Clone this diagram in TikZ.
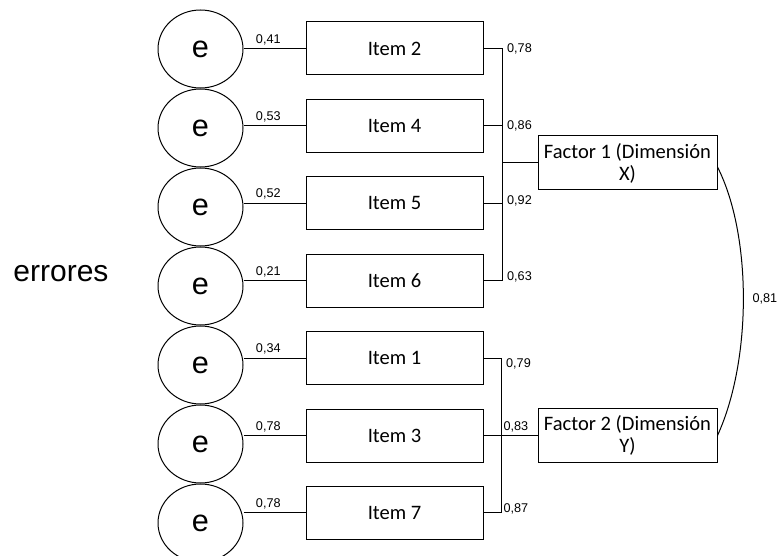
\documentclass[tikz,border=0pt]{standalone}
\usepackage{fontspec}
\newfontfamily\arialf{Liberation Sans}
\newfontfamily\calibrif{Carlito}
\usetikzlibrary{shapes.geometric, positioning}

\begin{document}
\begin{tikzpicture}[x=0.75pt, y=-0.75pt, line width=0.75pt,
    err/.style={ellipse, draw, minimum width=63.75pt, minimum height=58.5pt, inner sep=0pt, font=\arialf\fontsize{23}{26}\selectfont},
    itm/.style={draw, minimum width=132.75pt, minimum height=39.75pt, font=\calibrif\fontsize{15.4}{18}\selectfont},
    fac/.style={draw, minimum width=134.25pt, minimum height=40.5pt, inner sep=0pt, align=center, font=\calibrif\fontsize{15.4}{16.5}\selectfont},
    lbl/.style={inner sep=2.5pt, font=\arialf\fontsize{9.5}{11}\selectfont}]
  \useasboundingbox (0,0) rectangle (778,556);

  % items and errors
  \node[itm] (i0) at (394.5,48.5) {Item 2};
  \foreach \x/\n [evaluate = \x as \xp using int(\x-1)] in {1/4, 2/5, 3/6, 4/1, 5/3, 6/7}
    \node[itm, below=17.55pt of i\xp] (i\x) {Item \n};
  \node[err] (e0) at (200.5,49) {e};
  \foreach \x [evaluate = \x as \xp using int(\x-1)] in {1, ..., 6}
    \node[err, below=0 of e\xp] (e\x) {e};
  \foreach \x/\v in {0/{0,41}, 1/{0,53}, 2/{0,52}, 3/{0,21}, 4/{0,34}, 5/{0,78}, 6/{0,78}}
    \draw (i\x.west -| e\x.east) -- (i\x.west) node[lbl, above, pos=0.4] {\v};
  \node[font=\arialf\fontsize{22.5}{26}\selectfont] (errlbl) at (61,274) {errores};

  % factors
  \node[fac] (f1) at (627.5,163) {Factor 1 (Dimensión\\X)};
  \node[fac] (f2) at (f1 |- i5) {Factor 2 (Dimensión\\Y)};
  \coordinate (b1) at (502,0);
  \coordinate (b2) at (501,0);

  \draw (i0.east) -- (i0.east -| b1) -- (i3.east -| b1) -- (i3.east);
  \draw (i1.east) -- (i1.east -| b1);
  \draw (i2.east) -- (i2.east -| b1);
  \draw (f1.west) -- (f1.west -| b1);
  \node[lbl, anchor=west] at ([xshift=1pt]i0.east -| b1) {0,78};
  \node[lbl, anchor=west] at ([xshift=1pt]i1.east -| b1) {0,86};
  \node[lbl, anchor=west] at ([xshift=1pt, yshift=2pt]i2.east -| b1) {0,92};
  \node[lbl, anchor=west] at ([xshift=1pt, yshift=3pt]i3.east -| b1) {0,63};

  \draw (i4.east) -- (i4.east -| b2) -- (i6.east -| b2) -- (i6.east);
  \draw (i5.east) -- (f2.west);
  \node[lbl, anchor=west] at ([xshift=1pt, yshift=-4pt]i4.east -| b2) {0,79};
  \node[lbl, anchor=south west] at ([xshift=-1pt]i5.east -| b2) {0,83};
  \node[lbl, anchor=west] at ([xshift=-1pt, yshift=3pt]i6.east -| b2) {0,87};

  \draw ([yshift=-3pt]f1.east) .. controls (752,235) and (752,360) .. (f2.east)
    node[lbl, pos=0.5, right=4pt] {0,81};
\end{tikzpicture}
\end{document}
